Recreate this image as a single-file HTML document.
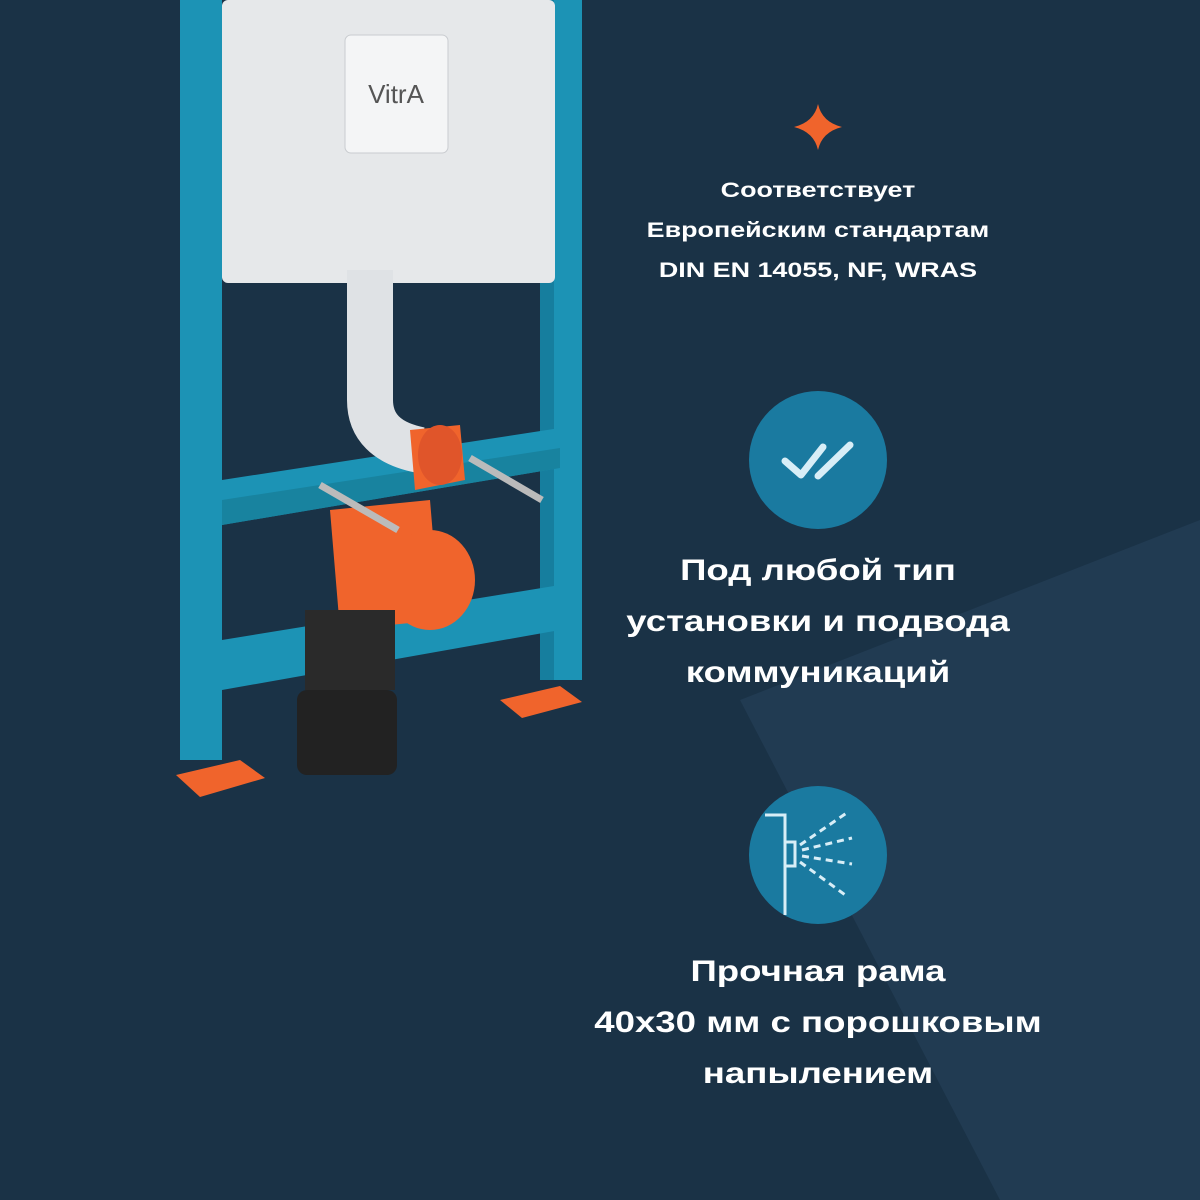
<!DOCTYPE html>
<html><head><meta charset="utf-8"><style>
html,body{margin:0;padding:0}
body{width:1200px;height:1200px;background:#1a3246;overflow:hidden;position:relative;font-family:"Liberation Sans",sans-serif}
svg{position:absolute;left:0;top:0}
.t{position:absolute;left:568px;width:500px;text-align:center;color:#fff;font-weight:bold;transform-origin:250px 0}
.s{font-size:21px;line-height:40px;top:171px;transform:scaleX(1.28)}
.h{font-size:30px;line-height:51px;transform:scaleX(1.22)}
</style></head><body>
<svg width="1200" height="1200" viewBox="0 0 1200 1200">
<polygon points="740,700 1200,520 1200,1200 1000,1200" fill="#213b52"/>
<!-- frame -->
<rect x="180" y="0" width="42" height="760" fill="#1c93b5"/>
<rect x="540" y="0" width="42" height="680" fill="#1c93b5"/>
<rect x="540" y="0" width="14" height="680" fill="#167e9e"/>
<polygon points="222,480 560,428 560,468 222,525" fill="#1c93b5"/>
<polygon points="222,640 560,585 560,630 222,690" fill="#1c93b5"/>
<polygon points="222,500 560,448 560,468 222,525" fill="#18839f"/>
<!-- cistern -->
<rect x="222" y="0" width="333" height="283" rx="6" fill="#e6e8ea"/>
<rect x="345" y="35" width="103" height="118" rx="6" fill="#f4f5f6" stroke="#c9ccd0"/>
<text x="396" y="103" font-size="26" text-anchor="middle" fill="#555" font-family="Liberation Sans">VitrA</text>
<!-- pipe -->
<path d="M370,270 L370,400 Q370,440 420,450" stroke="#dfe2e5" stroke-width="46" fill="none"/>
<polygon points="410,430 460,425 465,480 415,490" fill="#f0642c"/>
<ellipse cx="440" cy="455" rx="22" ry="30" fill="#e0552a"/>
<path d="M330,510 L430,500 L440,620 L340,630 Z" fill="#f0642c"/>
<ellipse cx="430" cy="580" rx="45" ry="50" fill="#f0642c"/>
<rect x="305" y="610" width="90" height="80" fill="#2a2a2a"/>
<rect x="297" y="690" width="100" height="85" rx="10" fill="#222"/>
<line x1="320" y1="485" x2="398" y2="530" stroke="#bbb" stroke-width="7"/>
<line x1="470" y1="458" x2="542" y2="500" stroke="#bbb" stroke-width="7"/>
<!-- feet -->
<polygon points="176,775 240,760 265,778 200,797" fill="#f0642c"/>
<polygon points="500,700 560,686 582,702 522,718" fill="#f0642c"/>
<!-- star -->
<path d="M818,104 Q822,122 842,127 Q822,132 818,150 Q814,132 794,127 Q814,122 818,104Z" fill="#f0642c"/>
<!-- circles -->
<circle cx="818" cy="460" r="69" fill="#1a7aa0"/>
<polyline points="785,461 801,475 823,447" stroke="#d8eef7" stroke-width="7" fill="none" stroke-linecap="round" stroke-linejoin="round"/>
<polyline points="818,476 850,445" stroke="#d8eef7" stroke-width="7" fill="none" stroke-linecap="round"/>
<circle cx="818" cy="855" r="69" fill="#1a7aa0"/>
<g stroke="#d8eef7" stroke-width="3" fill="none">
<polyline points="765,815 785,815 785,915"/>
<rect x="785" y="842" width="10" height="24"/>
<g stroke-dasharray="7,5"><line x1="800" y1="845" x2="848" y2="812"/><line x1="802" y1="850" x2="852" y2="838"/><line x1="802" y1="856" x2="852" y2="864"/><line x1="800" y1="862" x2="848" y2="897"/></g>
</g>
</svg>
<div class="t s">Соответствует<br>Европейским стандартам<br>DIN EN 14055, NF, WRAS</div>
<div class="t h" style="top:545px">Под любой тип<br>установки и подвода<br>коммуникаций</div>
<div class="t h" style="top:946px">Прочная рама<br>40x30 мм с порошковым<br>напылением</div>
</body></html>
